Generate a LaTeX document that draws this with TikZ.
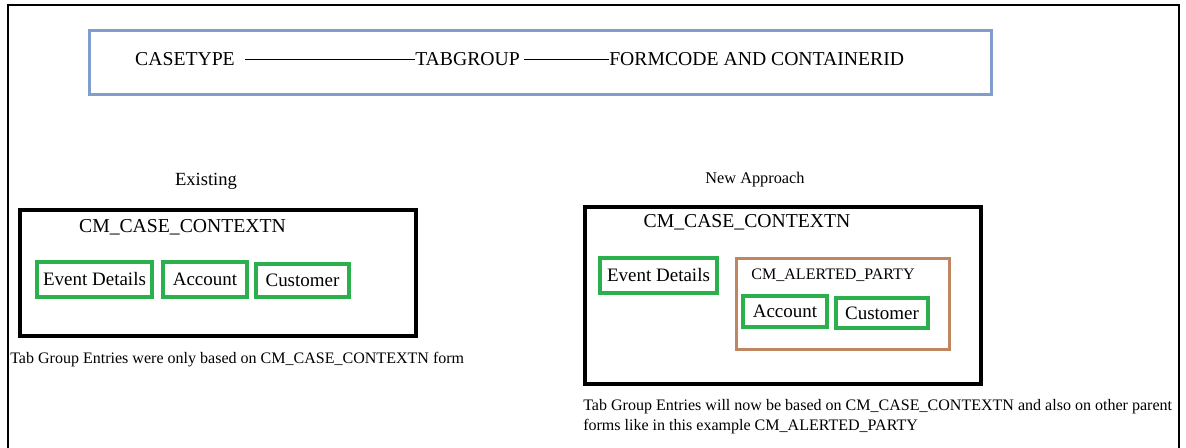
\documentclass[tikz,border=0pt]{standalone}
\usepackage{fontspec}
\setmainfont{Liberation Serif}
\usepackage{xcolor}
\usepackage{tikz}
\usetikzlibrary{positioning}

\definecolor{tabgreen}{RGB}{44,176,78}
\definecolor{headblue}{RGB}{128,158,205}
\definecolor{partybrown}{RGB}{192,134,98}

\begin{document}
\begin{tikzpicture}[
    x=0.025cm, y=-0.025cm,
    form/.style={draw, line width=2.8pt, anchor=north west, inner sep=0},
    tab/.style={draw=tabgreen, line width=2.3pt, minimum height=0.875cm, inner sep=0, font=\fontsize{13.5}{15}\selectfont},
    title/.style={font=\fontsize{14}{16}\selectfont, inner sep=0},
    note/.style={font=\fontsize{11.4}{14.2}\selectfont, inner sep=0, align=left},
    link/.style={line width=0.7pt}
]
\useasboundingbox (0,0) rectangle (1186,448);

% Outer frame (open at the bottom)
\draw[line width=1.5pt] (8,448) -- (8,5) -- (1179,5) -- (1179,448);

% Header strip
\node[form, draw=headblue, line width=2.2pt, minimum width=22.55cm, minimum height=1.6cm] (header) at (88,29) {};
\node[title] (casetype) at (185,59) {CASETYPE};
\node[title, anchor=west] (tabgroup) at (415,59) {TABGROUP};
\node[title, anchor=west] (formcode) at (609,59) {FORMCODE AND CONTAINERID};
\draw[link, shorten <=0.25cm] (casetype) -- (tabgroup);
\draw[link, shorten <=0.1cm] (tabgroup) -- (formcode);

% Existing
\node[font=\fontsize{13.2}{15}\selectfont, inner sep=0] (existing) at (206,181) {Existing};
\node[form, minimum width=9.9cm, minimum height=3.15cm] (oldctx) at (18,208) {};
\node[title] (oldctxname) at (182.5,227) {CM\_CASE\_CONTEXTN};
\node[tab, minimum width=2.875cm] (oldevent) at (94.5,279.5) {Event Details};
\node[tab, minimum width=2.1cm] (oldaccount) at (205,279.5) {Account};
\node[tab, minimum width=2.325cm, minimum height=0.825cm] (oldcustomer) at (302.5,280.5) {Customer};
\node[note, anchor=base west] (oldnote) at (10,363) {Tab Group Entries were only based on CM\_CASE\_CONTEXTN form};

% New Approach
\node[font=\fontsize{11.6}{14}\selectfont, inner sep=0] (newapp) at (755,180) {New Approach};
\node[form, minimum width=9.9cm, minimum height=4.425cm] (newctx) at (583,205) {};
\node[title] (newctxname) at (747,222) {CM\_CASE\_CONTEXTN};
\node[tab, minimum width=2.925cm] (newevent) at (658.5,275.5) {Event Details};
\node[form, draw=partybrown, line width=2.2pt, minimum width=5.325cm, minimum height=2.275cm] (party) at (735,257) {};
\node[font=\fontsize{11.4}{14}\selectfont, inner sep=0] (partyname) at (833,275) {CM\_ALERTED\_PARTY};
\node[tab, minimum width=2.1cm, minimum height=0.775cm] (newaccount) at (785,311.5) {Account};
\node[tab, minimum width=2.3cm, minimum height=0.75cm] (newcustomer) at (882,313) {Customer};
\node[note, anchor=north west] (newnote) at (583,399) {Tab Group Entries will now be based on CM\_CASE\_CONTEXTN and also on other parent\\forms like in this example CM\_ALERTED\_PARTY};

\end{tikzpicture}
\end{document}
